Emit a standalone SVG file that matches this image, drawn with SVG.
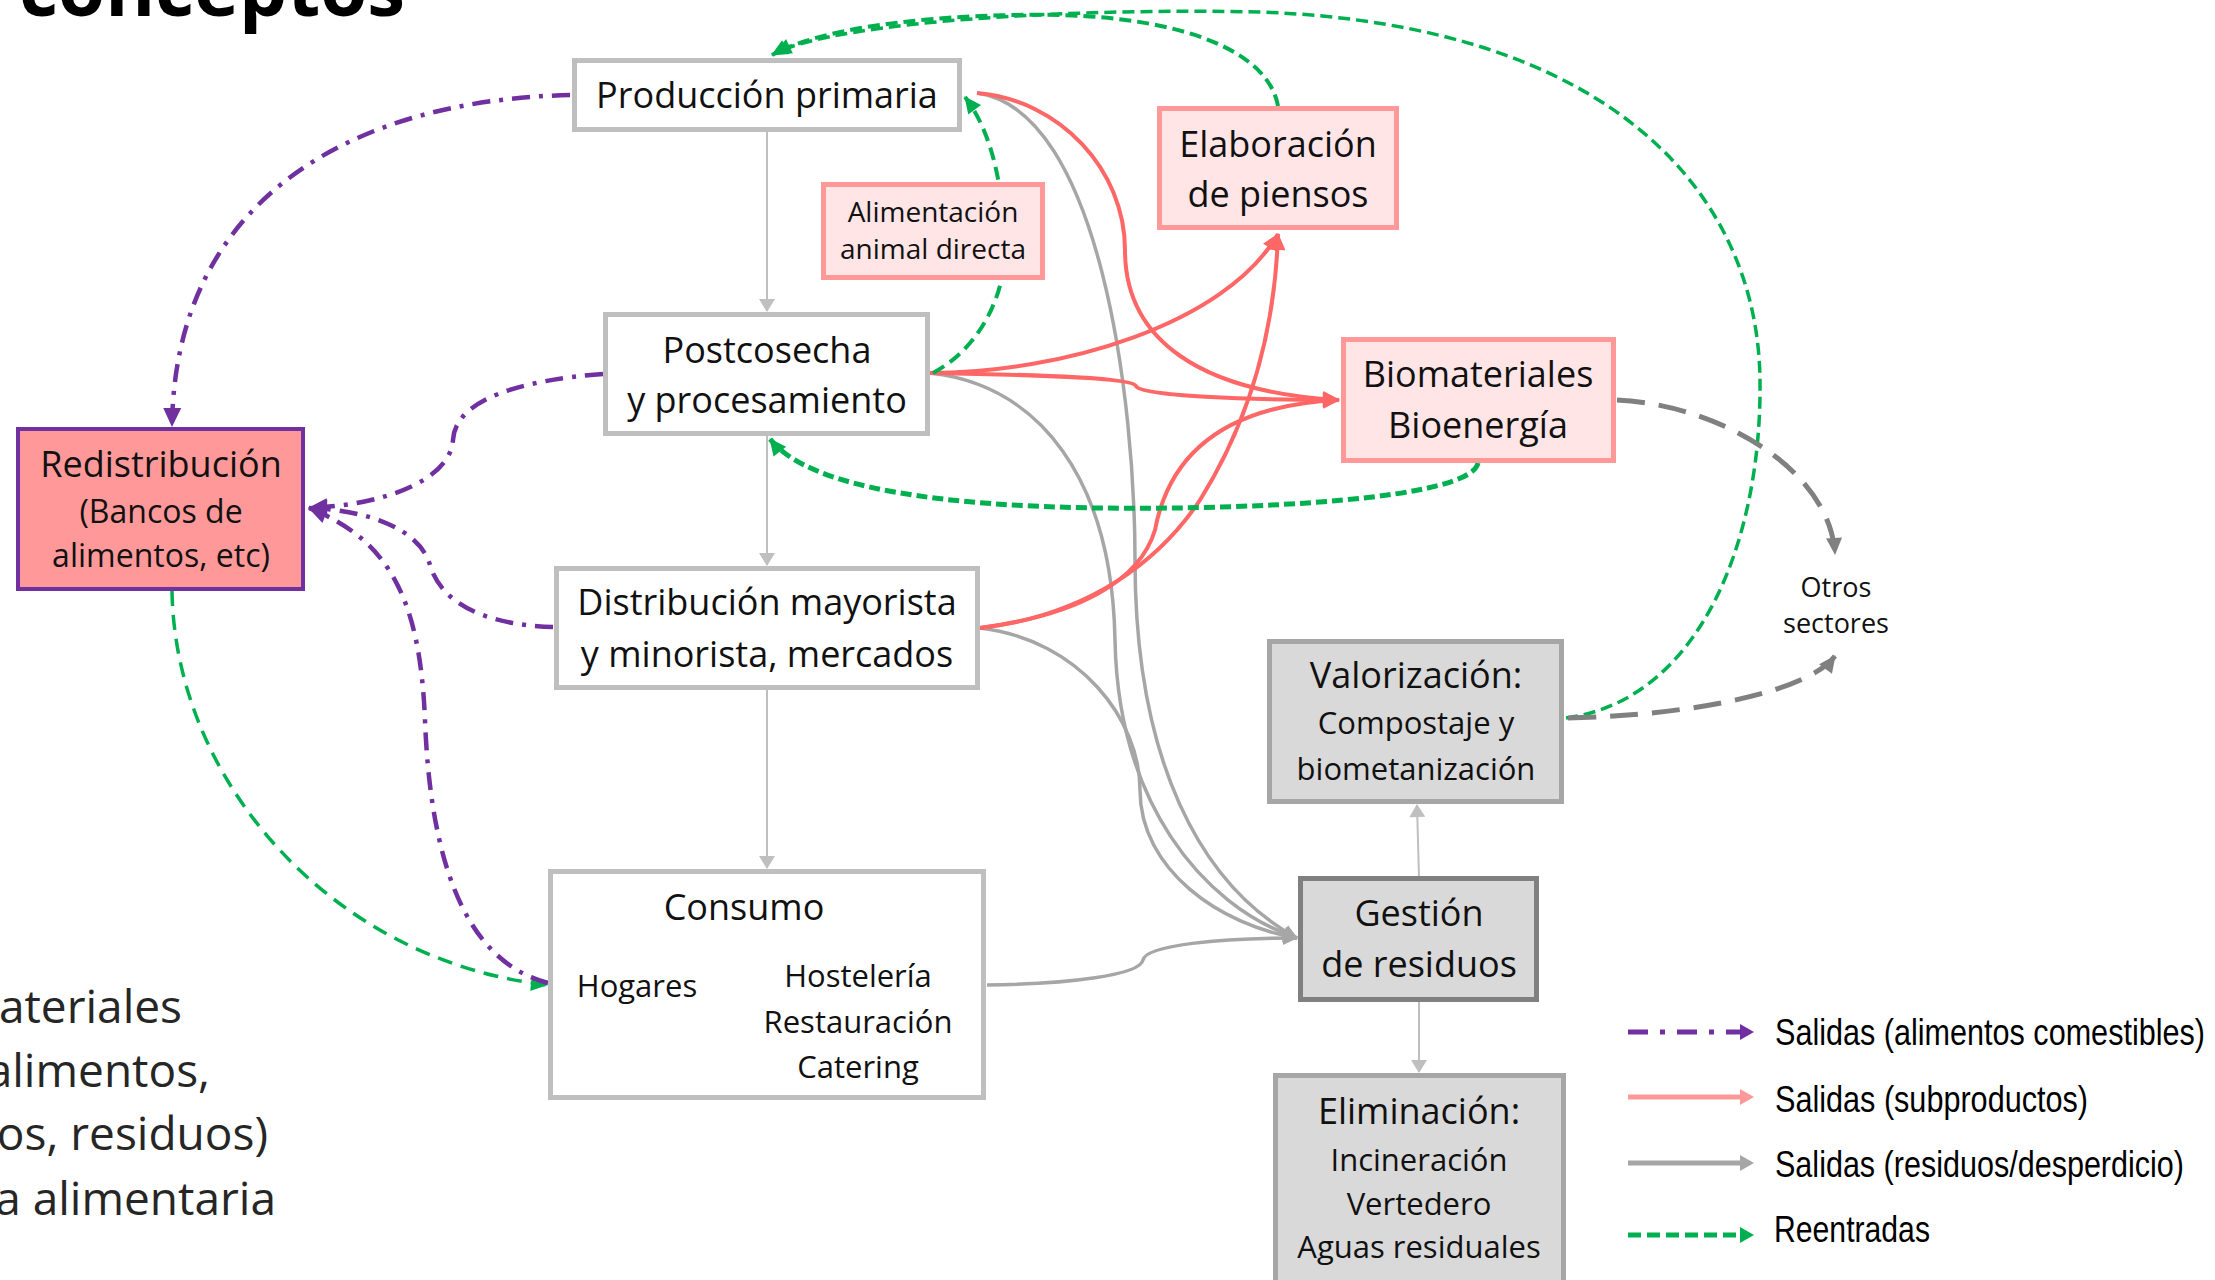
<svg xmlns="http://www.w3.org/2000/svg" width="2215" height="1280" viewBox="0 0 2215 1280">
<style>
.t{font-family:"Open Sans","Noto Sans",sans-serif;fill:#111;text-anchor:middle}
.f36{font-size:36px}.f31{font-size:31px}.f27{font-size:27px}
.lg{font-family:"Liberation Sans",Arial,sans-serif;font-size:37px;fill:#000}
.bw{fill:#fff;stroke:#bfbfbf;stroke-width:5}
.bp{fill:#ffe5e6;stroke:#ff9999;stroke-width:5}
.bg{fill:#d9d9d9;stroke:#a6a6a6;stroke-width:5}
.c{fill:none}
.thin{stroke:#bfbfbf;stroke-width:2}
.gry{stroke:#a6a6a6;stroke-width:3.5}
.red{stroke:#ff6666;stroke-width:4}
.grn{stroke:#00b050;stroke-width:4;stroke-dasharray:12 6}
.pur{stroke:#7030a0;stroke-width:4.5;stroke-dasharray:18 9 4 9}
.dg{stroke:#808080;stroke-width:5;stroke-dasharray:28 14}
</style>
<defs>
<marker id="a-thin" markerUnits="userSpaceOnUse" markerWidth="14" markerHeight="16" refX="12" refY="8" orient="auto" overflow="visible"><path d="M0,0 L13,8 L0,16 z" fill="#bfbfbf"/></marker>
<marker id="a-gry" markerUnits="userSpaceOnUse" markerWidth="16" markerHeight="14" refX="14" refY="7" orient="auto" overflow="visible"><path d="M0,0 L15,7 L0,14 z" fill="#a6a6a6"/></marker>
<marker id="a-red" markerUnits="userSpaceOnUse" markerWidth="18" markerHeight="16" refX="16" refY="8" orient="auto" overflow="visible"><path d="M0,0 L17,8 L0,16 z" fill="#ff6666"/></marker>
<marker id="a-grn" markerUnits="userSpaceOnUse" markerWidth="18" markerHeight="16" refX="16" refY="8" orient="auto" overflow="visible"><path d="M0,0 L17,8 L0,16 z" fill="#00b050"/></marker>
<marker id="a-pur" markerUnits="userSpaceOnUse" markerWidth="20" markerHeight="18" refX="18" refY="9" orient="auto" overflow="visible"><path d="M0,0 L19,9 L0,18 z" fill="#7030a0"/></marker>
<marker id="a-dg" markerUnits="userSpaceOnUse" markerWidth="18" markerHeight="16" refX="16" refY="8" orient="auto" overflow="visible"><path d="M0,0 L17,8 L0,16 z" fill="#808080"/></marker>
</defs>
<rect width="2215" height="1280" fill="#fff"/>

<g id="slide-text">
<text x="19" y="16" font-family="'Open Sans','Noto Sans',sans-serif" font-weight="700" font-size="76" fill="#000">conceptos</text>
<g font-family="'Open Sans','Noto Sans',sans-serif" font-size="46" fill="#262626" text-anchor="end">
<text x="182" y="1023">ateriales</text>
<text x="210" y="1087">alimentos,</text>
<text x="268" y="1150">os, residuos)</text>
<text x="276" y="1215">a alimentaria</text>
</g>
</g>

<g id="connectors" class="c">
<path class="c thin" d="M767,132 V311" marker-end="url(#a-thin)"/>
<path class="c thin" d="M767,436 V565" marker-end="url(#a-thin)"/>
<path class="c thin" d="M767,690 V868" marker-end="url(#a-thin)"/>
<path class="c thin" d="M1419,877 L1417,805" marker-end="url(#a-thin)"/>
<path class="c thin" d="M1419,1002 V1072" marker-end="url(#a-thin)"/>

<path class="c gry" d="M977,93 C1100,110 1135,400 1135,560 C1135,760 1200,885 1297,938" marker-end="url(#a-gry)"/>
<path class="c gry" d="M930,373 C1040,385 1112,480 1115,640 C1118,800 1200,905 1297,938" marker-end="url(#a-gry)"/>
<path class="c gry" d="M980,628 C1080,640 1140,720 1140,790 C1140,870 1220,925 1297,938" marker-end="url(#a-gry)"/>
<path class="c gry" d="M987,985 C1070,984 1140,975 1143,960 C1146,945 1220,938 1297,938" marker-end="url(#a-gry)"/>

<path class="c red" d="M977,93 C1060,100 1125,170 1125,250 C1125,340 1200,392 1339,400" marker-end="url(#a-red)"/>
<path class="c red" d="M930,373 C1060,373 1225,325 1278,234" marker-end="url(#a-red)"/>
<path class="c red" d="M930,373 C1050,375 1133,378 1136,386 C1140,396 1250,400 1339,400" marker-end="url(#a-red)"/>
<path class="c red" d="M980,628 C1090,615 1160,560 1200,500 C1250,420 1275,330 1278,234" marker-end="url(#a-red)"/>
<path class="c red" d="M980,628 C1080,615 1140,580 1155,530 C1170,450 1230,405 1339,400" marker-end="url(#a-red)"/>

<path class="c grn" d="M1278,106 C1268,50 1180,18 1060,15 C950,13 825,25 772,55" marker-end="url(#a-grn)"/>
<path class="c grn" style="stroke-width:3.5" d="M1566,718 C1700,700 1762,540 1760,380 C1758,200 1620,25 1260,12 C1080,8 845,20 775,53" marker-end="url(#a-grn)"/>
<path class="c grn" style="stroke-dasharray:13 7" d="M933,373 C985,345 1010,285 1005,230 C1000,175 990,130 965,97" marker-end="url(#a-grn)"/>
<path class="c grn" style="stroke-width:5;stroke-dasharray:11 5" d="M1478,463 C1470,500 1250,510 1100,508 C950,506 810,490 770,439" marker-end="url(#a-grn)"/>
<path class="c grn" style="stroke-width:3.5;stroke-dasharray:15 9" d="M172,591 C175,780 330,960 547,985" marker-end="url(#a-grn)"/>

<path class="c pur" d="M570,95 C350,100 175,200 172,426" marker-end="url(#a-pur)"/>
<path class="c pur" d="M603,374 C520,380 455,400 453,440 C450,480 385,505 309,508" marker-end="url(#a-pur)"/>
<path class="c pur" d="M553,627 C480,625 440,600 430,565 C420,530 370,510 309,508" marker-end="url(#a-pur)"/>
<path class="c pur" d="M548,983 C460,960 430,850 425,720 C420,600 390,540 309,508" marker-end="url(#a-pur)"/>

<path class="c dg" d="M1617,400 C1720,405 1830,470 1835,554" marker-end="url(#a-dg)"/>
<path class="c dg" d="M1568,718 C1700,715 1810,690 1835,656" marker-end="url(#a-dg)"/>
</g>

<g id="n-produccion">
<rect class="bw" x="574.5" y="60.5" width="385" height="69"/>
<text class="t f36" x="767" y="108">Producción primaria</text>
</g>
<g id="n-alimentacion">
<rect class="bp" x="823.5" y="184.5" width="219" height="93"/>
<text class="t" font-size="28" x="933" y="222">Alimentación</text>
<text class="t" font-size="28" x="933" y="259">animal directa</text>
</g>
<g id="n-elaboracion">
<rect class="bp" x="1159.5" y="108.5" width="237" height="119"/>
<text class="t f36" x="1278" y="157">Elaboración</text>
<text class="t f36" x="1278" y="207">de piensos</text>
</g>
<g id="n-postcosecha">
<rect class="bw" x="605.5" y="314.5" width="322" height="119"/>
<text class="t f36" x="767" y="363">Postcosecha</text>
<text class="t f36" x="767" y="413">y procesamiento</text>
</g>
<g id="n-redistribucion">
<rect x="18" y="429" width="285" height="160" fill="#ff9999" stroke="#7030a0" stroke-width="4"/>
<text class="t f36" x="161" y="477">Redistribución</text>
<text class="t" font-size="32" x="161" y="523">(Bancos de</text>
<text class="t" font-size="32" x="161" y="567">alimentos, etc)</text>
</g>
<g id="n-distribucion">
<rect class="bw" x="556.5" y="568.5" width="421" height="119"/>
<text class="t f36" x="767" y="615">Distribución mayorista</text>
<text class="t f36" x="767" y="667">y minorista, mercados</text>
</g>
<g id="n-consumo">
<rect class="bw" x="550.5" y="871.5" width="433" height="226"/>
<text class="t f36" x="744" y="920">Consumo</text>
<text class="t f31" x="637" y="997">Hogares</text>
<text class="t f31" x="858" y="987">Hostelería</text>
<text class="t f31" x="858" y="1033">Restauración</text>
<text class="t f31" x="858" y="1078">Catering</text>
</g>
<g id="n-biomateriales">
<rect class="bp" x="1343.5" y="339.5" width="270" height="121"/>
<text class="t f36" x="1478" y="387">Biomateriales</text>
<text class="t f36" x="1478" y="438">Bioenergía</text>
</g>
<g id="n-valorizacion">
<rect class="bg" x="1269.5" y="641.5" width="292" height="160"/>
<text class="t f36" x="1416" y="688">Valorización:</text>
<text class="t f31" x="1416" y="734">Compostaje y</text>
<text class="t f31" x="1416" y="780">biometanización</text>
</g>
<g id="n-gestion">
<rect class="bg" style="stroke:#808080" x="1300.5" y="878.5" width="236" height="121"/>
<text class="t f36" x="1419" y="926">Gestión</text>
<text class="t f36" x="1419" y="977">de residuos</text>
</g>
<g id="n-eliminacion">
<rect class="bg" x="1275.5" y="1075.5" width="288" height="220"/>
<text class="t f36" x="1419" y="1124">Eliminación:</text>
<text class="t f31" x="1419" y="1171">Incineración</text>
<text class="t f31" x="1419" y="1215">Vertedero</text>
<text class="t f31" x="1419" y="1258">Aguas residuales</text>
</g>
<g id="n-otros">
<text class="t f27" x="1836" y="597">Otros</text>
<text class="t f27" x="1836" y="633">sectores</text>
</g>

<g id="legend">
<path class="c pur" style="stroke-width:5;stroke-dasharray:20 12 5 12" d="M1628,1032 H1741"/>
<polygon points="1740,1024 1754,1032 1740,1040" fill="#7030a0"/>
<path class="c" stroke="#ff9999" stroke-width="5" d="M1628,1097 H1741"/>
<polygon points="1740,1089 1754,1097 1740,1105" fill="#ff9999"/>
<path class="c" stroke="#a6a6a6" stroke-width="5" d="M1628,1163 H1741"/>
<polygon points="1740,1155 1754,1163 1740,1171" fill="#a6a6a6"/>
<path class="c" stroke="#00b050" stroke-width="5" stroke-dasharray="13 6" d="M1628,1235 H1741"/>
<polygon points="1740,1227 1754,1235 1740,1243" fill="#00b050"/>
<text class="lg" x="1775" y="1045" textLength="430" lengthAdjust="spacingAndGlyphs">Salidas (alimentos comestibles)</text>
<text class="lg" x="1775" y="1112" textLength="313" lengthAdjust="spacingAndGlyphs">Salidas (subproductos)</text>
<text class="lg" x="1775" y="1177" textLength="409" lengthAdjust="spacingAndGlyphs">Salidas (residuos/desperdicio)</text>
<text class="lg" x="1774" y="1242" textLength="156" lengthAdjust="spacingAndGlyphs">Reentradas</text>
</g>
</svg>
